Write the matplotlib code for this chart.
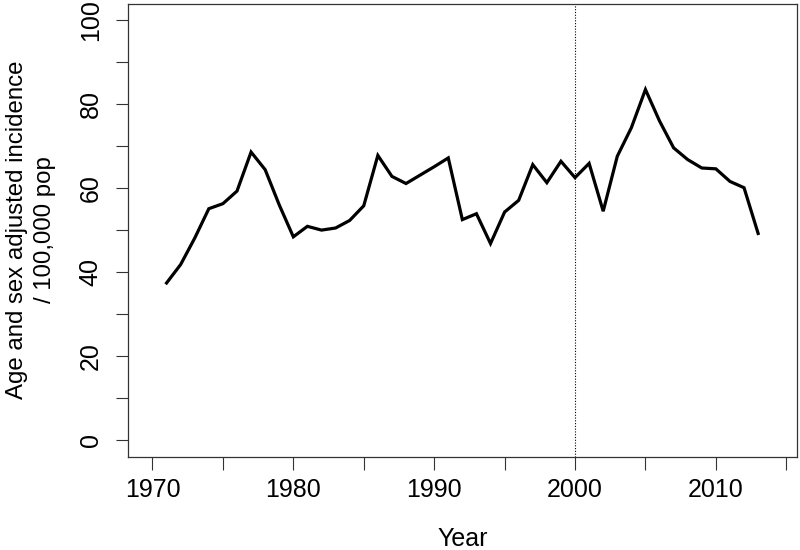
import matplotlib
matplotlib.use('Agg')
import matplotlib.pyplot as plt
import numpy as np

#-data
years = list(range(1971, 2014))
incidence = [37.4, 41.8, 48.1, 55.1, 56.3, 59.3, 68.6, 64.4, 56.0, 48.4,
             50.9, 50.0, 50.5, 52.3, 55.8, 67.8, 62.8, 61.1, 63.1, 65.1,
             67.2, 52.5, 53.9, 46.8, 54.3, 57.1, 65.6, 61.3, 66.4, 62.5,
             65.9, 54.5, 67.6, 74.4, 83.5, 76.0, 69.6, 66.8, 64.8, 64.6,
             61.6, 60.1, 49.2]
cutoff_year = 2000
x_ticks = list(range(1970, 2016, 5))
x_labels = ['1970', '', '1980', '', '1990', '', '2000', '', '2010', '']
y_ticks = list(range(0, 101, 10))
y_labels = ['0', '', '20', '', '40', '', '60', '', '80', '', '100']

plt.rcParams['font.family'] = ['Liberation Sans', 'DejaVu Sans']

fig = plt.figure(figsize=(8, 5.5), dpi=100)
ax = fig.add_axes([127.7/800, 1 - 456.7/550, (797 - 127.7)/800, (456.7 - 3.5)/550])

ax.plot(years, incidence, color='black', linewidth=2.3, solid_joinstyle='miter')
ax.axvline(cutoff_year, color='black', linewidth=0.8, linestyle=(0, (1, 1.5)))

#-R style axis limits (4% padding)
ax.set_xlim(1970 - 0.04*44, 2014 + 0.04*44)
ax.set_ylim(-4, 104)

ax.set_xticks(x_ticks)
ax.set_xticklabels(x_labels)
ax.set_yticks(y_ticks)
ax.set_yticklabels(y_labels, rotation=90, va='center')
ax.tick_params(axis='both', length=9, width=0.8, labelsize=18, color='#333333')
ax.tick_params(axis='x', pad=6)
ax.tick_params(axis='y', pad=9)
for s in ax.spines.values():
    s.set_linewidth(0.9)
    s.set_color('#333333')

fig.text(463/800, 1 - 539/550, 'Year', ha='center', va='center', fontsize=18)
fig.text(31/800, 1 - 230/550, 'Age and sex adjusted incidence\n/ 100,000 pop',
         ha='center', va='center', rotation=90, fontsize=17.3,
         multialignment='center', linespacing=1.3)

fig.savefig('out.png', dpi=100)
